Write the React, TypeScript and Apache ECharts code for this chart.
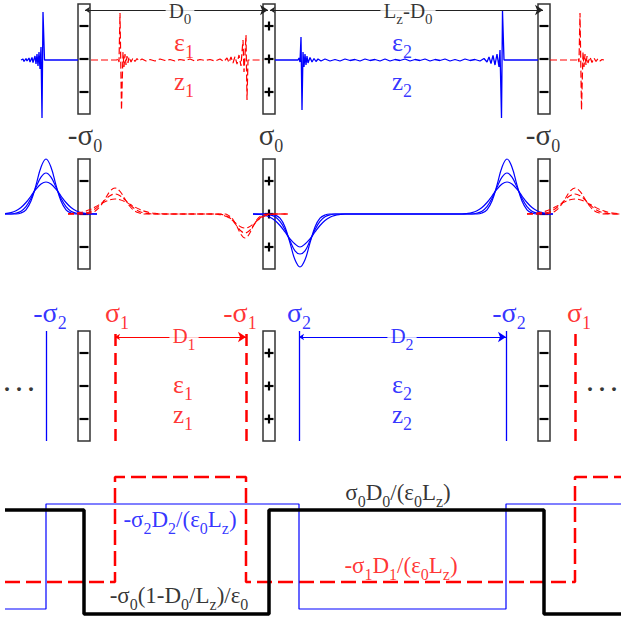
import React, { useEffect, useRef } from "react";
import * as echarts from "echarts";

const FONT = "Liberation Serif";
const BLUE = "#0000ff";
const RED = "#ff0000";

// ---------- schematic geometry ----------
const electrodeX = [84, 269, 544];
const electrodeSign = [-1, 1, -1];
const panelCenterY = [59, 214, 386];

// panel 1 : signals
const blueSig1 = [[21,60],[23,59],[24,61.5],[26,58.5],[27,61],[29,58],[30,62],[32,57.5],[33,62.5],[35,56],[36,64],[37,54],[38,66],[39,52],[40,69],[41,47],[42,118],[43,12],[44.5,60],[78,60]];
const redSig1 = [[91,60],[117,60],[118,58],[119,62],[120,13],[121.5,110],[123,52],[124,67],[125,54],[126,65],[127,56],[128,63],[129,57],[131,62],[133,58],[135,61.5],[137,58.5],[139,61],[142,59],[146,61],[150,59.5],[155,61],[160,59],[165,60.5],[170,59.5],[175,61],[180,59.5],[185,60.5],[190,59],[195,61],[200,59.5],[205,60.5],[210,59.5],[215,61],[220,59],[224,61.5],[227,58],[229,62.5],[231,57],[233,63],[235,56.5],[237,64],[239,55],[241,66],[242,52],[243,40],[244,72],[245,55],[246,35],[247,100],[248,60],[263,60]];
const blueSig2 = [[275,60],[298,60],[299,58],[300,62],[301,37],[302,110],[303,52],[304,67],[305,54],[306,65],[307,56],[308,63],[310,57.5],[312,62],[314,58.5],[316,61.5],[318,59],[321,61],[325,59],[330,61],[335,59.5],[340,61],[345,59],[350,60.5],[355,59.5],[360,61],[365,59],[370,60.5],[375,59.5],[380,61],[385,59],[390,61],[395,59.5],[400,60.5],[405,59],[410,61],[415,59.5],[420,60.5],[425,59],[430,61],[435,59.5],[440,60.5],[445,59],[450,61],[455,59.5],[460,61],[465,59],[470,60.5],[475,59.5],[480,61],[484,58.5],[487,62],[489,57],[491,63.5],[493,55.5],[495,65],[497,54],[499,67],[500,50],[501.5,118],[502.5,11],[504,60],[538,60]];
const redSig2 = [[550,60],[577,60],[578,58],[579,62],[580,13],[581.5,110],[583,52],[584,67],[585,54],[586,65],[587,56],[588,63],[590,57],[592,62.5],[594,58],[596,61.5],[598,58.5],[600,61],[602,59.5],[604,60]];

// panel 2 : charge profiles
const blueLeftNarrow = [[5,214],[16,214],[21,213],[26,209.8],[31,201.1],[36,185.1],[41,167.2],[46,159],[51,167.2],[56,185.1],[61,201.1],[66,209.8],[71,213],[76,214],[97,214]];
const blueLeftMedium = [[5,214],[11,214],[16,213.1],[21,211.2],[26,206.6],[31,198.4],[36,187.3],[41,177.2],[46,173],[51,177.2],[56,187.3],[61,198.4],[66,206.6],[71,211.2],[76,213.1],[81,214],[97,214]];
const blueLeftWide = [[5,213.6],[11,212.6],[16,210.8],[21,207.5],[26,202.5],[31,196],[36,189.2],[41,184],[46,182],[51,184],[56,189.2],[61,196],[66,202.5],[71,207.5],[76,210.8],[81,212.6],[86,213.5],[97,214]];
const blueMidNarrow = [[253,214],[270,214],[275,215],[280,218.2],[285,226.9],[290,242.9],[295,259.8],[300,267],[305,259.8],[310,242.9],[315,226.9],[320,218.2],[325,215],[330,214],[477,214],[482,213],[487,209.8],[492,201.1],[497,185.1],[502,167.2],[507,159],[512,167.2],[517,185.1],[522,201.1],[527,209.8],[532,213],[537,214],[553,214]];
const blueMidMedium = [[253,214],[265,214],[270,214.9],[275,216.8],[280,221.4],[285,229.6],[290,240.7],[295,250.8],[300,254],[305,250.8],[310,240.7],[315,229.6],[320,221.4],[325,216.8],[330,214.9],[335,214],[472,214],[477,213.1],[482,211.2],[487,206.6],[492,198.4],[497,187.3],[502,177.2],[507,173],[512,177.2],[517,187.3],[522,198.4],[527,206.6],[532,211.2],[537,213.1],[542,214],[553,214]];
const blueMidWide = [[253,214.1],[260,214.5],[265,215.4],[270,217.2],[275,220.5],[280,225.5],[285,232],[290,238.8],[295,244],[300,247],[305,244],[310,238.8],[315,232],[320,225.5],[325,220.5],[330,217.2],[335,215.4],[340,214.5],[345,214],[462,214],[467,213.5],[472,212.6],[477,210.8],[482,207.5],[487,202.5],[492,196],[497,189.2],[502,184],[507,182],[512,184],[517,189.2],[522,196],[527,202.5],[532,207.5],[537,210.8],[542,212.6],[547,213.5],[553,214]];
const redMidNarrow = [[68,214],[85,214],[90,213.2],[95,211.2],[100,206.5],[105,199.1],[110,191.4],[115,188],[120,191.4],[125,199.1],[130,206.5],[135,211.2],[140,213.2],[145,214],[225,214],[229,215.8],[233,219.5],[237,226.5],[241,234.4],[245,238],[249,234.4],[253,226.5],[257,219.5],[261,215.8],[265,214.4],[269,214],[288,214]];
const redMidMedium = [[68,214],[80,213.7],[85,213.1],[90,211.7],[95,209],[100,204.8],[105,199.9],[110,195.7],[115,194],[120,195.7],[125,199.9],[130,204.8],[135,209],[140,211.7],[145,213.1],[150,213.7],[155,214],[217,214],[221,214.3],[225,215.2],[229,217.2],[233,221],[237,226.2],[241,231],[245,233],[249,231],[253,226.2],[257,221],[261,217.2],[265,215.2],[269,214.3],[273,214],[288,214]];
const redMidWide = [[68,213.8],[75,213.3],[80,212.6],[85,211.4],[90,209.6],[95,207.1],[100,204.3],[105,201.7],[110,199.7],[115,199],[120,199.7],[125,201.7],[130,204.3],[135,207.1],[140,209.6],[145,211.4],[150,212.6],[155,213.3],[160,213.7],[170,214],[213,214],[217,214.3],[221,214.8],[225,215.9],[229,217.9],[233,220.8],[237,224.2],[241,226.9],[245,228],[249,226.9],[253,224.2],[257,220.8],[261,217.9],[265,215.9],[269,214.8],[273,214.3],[277,214],[288,214]];
const redRightNarrow = [[527,214],[545,214],[550,213.2],[555,211.2],[560,206.5],[565,199.1],[570,191.4],[575,188],[580,191.4],[585,199.1],[590,206.5],[595,211.2],[600,213.2],[605,214],[620,214]];
const redRightMedium = [[527,214],[540,213.7],[545,213.1],[550,211.7],[555,209],[560,204.8],[565,199.9],[570,195.7],[575,194],[580,195.7],[585,199.9],[590,204.8],[595,209],[600,211.7],[605,213.1],[610,213.7],[615,214],[620,214]];
const redRightWide = [[527,213.8],[535,213.3],[540,212.6],[545,211.4],[550,209.6],[555,207.1],[560,204.3],[565,201.7],[570,199.7],[575,199],[580,199.7],[585,201.7],[590,204.3],[595,207.1],[600,209.6],[605,211.4],[610,212.6],[615,213.3],[620,213.7]];

// panel 3 : sheets of charge
const blueSheetX = [46, 299, 506];
const redSheetX = [115, 246, 575];
const blueSheetSpan = [331, 441];
const redSheetSpan = [334, 441];

// arrows (dimension markers)
const blackArrows = [[[85, 10], [268, 10]], [[270, 10], [543, 10]]];
const redArrows = [[[115, 337], [246, 337]]];
const blueArrows = [[[299, 337], [506, 337]]];

// panel 4 : step potentials (x of level change, level)
const blackStep = [[5, 510], [84, 614], [269, 510], [544, 614], [621, 614]];
const blueStep = [[5, 609], [46, 504], [299, 609], [506, 504], [621, 504]];
const redStep = [[5, 582], [115, 477], [246, 582], [575, 477], [621, 477]];

// texts (f: main font size, sf: subscript font size)
const labels = [
  { t: "D_0", x: 180, y: 11, c: "#000", f: 21, sf: 15, bg: true },
  { t: "L_z-D_0", x: 408, y: 11, c: "#000", f: 21, sf: 15, bg: true },
  { t: "ε_1", x: 184, y: 42, c: RED, f: 26, sf: 18 },
  { t: "z_1", x: 184, y: 81, c: RED, f: 25, sf: 18 },
  { t: "ε_2", x: 402, y: 42, c: BLUE, f: 26, sf: 18 },
  { t: "z_2", x: 402, y: 81, c: BLUE, f: 25, sf: 18 },
  { t: "-σ_0", x: 85, y: 135, c: "#000", f: 29, sf: 18 },
  { t: "σ_0", x: 271, y: 135, c: "#000", f: 29, sf: 18 },
  { t: "-σ_0", x: 543, y: 135, c: "#000", f: 29, sf: 18 },
  { t: "-σ_2", x: 50, y: 312, c: BLUE, f: 28, sf: 18 },
  { t: "σ_1", x: 117, y: 312, c: RED, f: 28, sf: 18 },
  { t: "-σ_1", x: 240, y: 312, c: RED, f: 28, sf: 18 },
  { t: "σ_2", x: 299, y: 312, c: BLUE, f: 28, sf: 18 },
  { t: "-σ_2", x: 509, y: 312, c: BLUE, f: 28, sf: 18 },
  { t: "σ_1", x: 579, y: 312, c: RED, f: 28, sf: 18 },
  { t: "D_1", x: 184, y: 336, c: RED, f: 21, sf: 16, bg: true },
  { t: "D_2", x: 402, y: 336, c: BLUE, f: 21, sf: 16, bg: true },
  { t: "ε_1", x: 183, y: 384, c: RED, f: 26, sf: 18 },
  { t: "z_1", x: 183, y: 414, c: RED, f: 25, sf: 18 },
  { t: "ε_2", x: 402, y: 384, c: BLUE, f: 26, sf: 18 },
  { t: "z_2", x: 402, y: 414, c: BLUE, f: 25, sf: 18 },
  { t: ". . .", x: 19, y: 383, c: "#000", f: 24, sf: 16, bold: true },
  { t: ". . .", x: 602, y: 383, c: "#000", f: 24, sf: 16, bold: true },
  { t: "σ_0D_0/(ε_0L_z)", x: 398, y: 492, c: "#000", f: 23, sf: 16 },
  { t: "-σ_1D_1/(ε_0L_z)", x: 401, y: 565, c: RED, f: 23, sf: 16 },
  { t: "-σ_2D_2/(ε_0L_z)", x: 180, y: 519, c: BLUE, f: 23, sf: 16 },
  { t: "-σ_0(1-D_0/L_z)/ε_0", x: 179, y: 595, c: "#000", f: 23, sf: 16 },
];

function richText(s: string) {
  let out = "";
  let buf = "";
  for (let i = 0; i < s.length; i++) {
    const ch = s[i];
    if (ch === "_" && i + 1 < s.length) {
      if (buf) { out += `{m|${buf}}`; buf = ""; }
      out += `{s|${s[i + 1]}}`;
      i++;
    } else buf += ch;
  }
  if (buf) out += `{m|${buf}}`;
  return out;
}

function line(data: number[][], color: string, width: number, type: any = "solid", smooth: any = false, z = 3): any {
  return {
    type: "line", data, symbol: "none", showSymbol: false, silent: true, smooth,
    lineStyle: { color, width, type }, z, animation: false,
  };
}

function buildOption(): any {
  const electrodes: number[][] = [];
  panelCenterY.forEach((cy) => electrodeX.forEach((cx, i) => electrodes.push([cx, cy, electrodeSign[i]])));

  const series: any[] = [];
  series.push({
    type: "custom", coordinateSystem: "cartesian2d", silent: true, z: 1,
    encode: { x: 0, y: 1 },
    data: electrodes,
    renderItem: (params: any, api: any) => {
      const cx = api.value(0), cy = api.value(1), sg = api.value(2);
      const p1 = api.coord([cx - 6, cy - 55]);
      const p2 = api.coord([cx + 6, cy + 55]);
      const c = api.coord([cx, cy]);
      const children: any[] = [{
        type: "rect",
        shape: { x: Math.min(p1[0], p2[0]), y: Math.min(p1[1], p2[1]), width: Math.abs(p2[0] - p1[0]), height: Math.abs(p2[1] - p1[1]) },
        style: { fill: "#fff", stroke: "#333", lineWidth: 1.5 },
      }];
      [-33, 0, 33].forEach((d) => {
        const y = c[1] + d;
        children.push({ type: "line", shape: { x1: c[0] - 4.5, y1: y, x2: c[0] + 4.5, y2: y }, style: { stroke: "#000", lineWidth: 2.2 } });
        if (sg > 0) children.push({ type: "line", shape: { x1: c[0], y1: y - 4.5, x2: c[0], y2: y + 4.5 }, style: { stroke: "#000", lineWidth: 2.2 } });
      });
      return { type: "group", children };
    },
  });

  // panel 1
  series.push(line(blueSig1, BLUE, 1.3));
  series.push(line(redSig1, RED, 1.2, [7, 3]));
  series.push(line(blueSig2, BLUE, 1.3));
  series.push(line(redSig2, RED, 1.2, [7, 3]));

  // panel 2
  [blueLeftNarrow, blueLeftMedium, blueLeftWide, blueMidNarrow, blueMidMedium, blueMidWide].forEach((d) =>
    series.push(line(d, BLUE, 1.2, "solid", 0.4, 4)));
  [redMidNarrow, redMidMedium, redMidWide, redRightNarrow, redRightMedium, redRightWide].forEach((d) =>
    series.push(line(d, RED, 1.1, [6, 3], 0.4, 4)));

  // panel 3 sheets
  series.push({
    type: "lines", coordinateSystem: "cartesian2d", silent: true, z: 3,
    data: blueSheetX.map((x) => ({ coords: [[x, blueSheetSpan[0]], [x, blueSheetSpan[1]]] })),
    lineStyle: { color: BLUE, width: 1.3, opacity: 1 },
  });
  series.push({
    type: "lines", coordinateSystem: "cartesian2d", silent: true, z: 3,
    data: redSheetX.map((x) => ({ coords: [[x, redSheetSpan[0]], [x, redSheetSpan[1]]] })),
    lineStyle: { color: RED, width: 2.5, type: [12, 7], opacity: 1 },
  });

  // arrows
  const arrowSeries = (arr: number[][][], color: string) => ({
    type: "lines", coordinateSystem: "cartesian2d", silent: true, z: 3,
    symbol: ["arrow", "arrow"], symbolSize: [5, 8],
    data: arr.map((c) => ({ coords: c })),
    lineStyle: { color, width: 1, opacity: 1 },
  });
  series.push(arrowSeries(blackArrows, "#222"));
  series.push(arrowSeries(redArrows, RED));
  series.push(arrowSeries(blueArrows, BLUE));

  // panel 4
  series.push({ ...line(redStep, RED, 2.5, [15, 6]), step: "end" });
  series.push({ ...line(blueStep, BLUE, 1.2), step: "end" });
  series.push({ ...line(blackStep, "#000", 3.5), step: "end" });

  // texts
  series.push({
    type: "scatter", silent: true, z: 10, symbolSize: 0,
    data: labels.map((l: any) => {
      const sh = Math.round(l.f * 0.38);
      return {
        value: [l.x, l.y + sh / 2],
        label: {
          show: true, position: "inside", formatter: richText(l.t),
          backgroundColor: l.bg ? "#fff" : "transparent", padding: l.bg ? [0, 3] : 0,
          rich: {
            m: { fontSize: l.f, lineHeight: l.f, fontFamily: FONT, color: l.c, fontWeight: l.bold ? "bold" : "normal", padding: [0, 0, sh, 0] },
            s: { fontSize: l.sf, lineHeight: l.f, fontFamily: FONT, color: l.c, padding: [sh, 0, 0, 0] },
          },
        },
      };
    }),
  });

  return {
    animation: false,
    backgroundColor: "#fff",
    grid: { left: 0, right: 0, top: 0, bottom: 0 },
    xAxis: { type: "value", min: 0, max: 621, show: false },
    yAxis: { type: "value", min: 0, max: 621, inverse: true, show: false },
    series,
  };
}

export default function App() {
  const ref = useRef<HTMLDivElement>(null);
  useEffect(() => {
    const chart = echarts.init(ref.current!, null, { renderer: "svg" });
    chart.setOption(buildOption());
    return () => chart.dispose();
  }, []);
  return <div ref={ref} style={{ position: "fixed", left: 0, top: 0, width: 621, height: 621, background: "#fff" }} />;
}
